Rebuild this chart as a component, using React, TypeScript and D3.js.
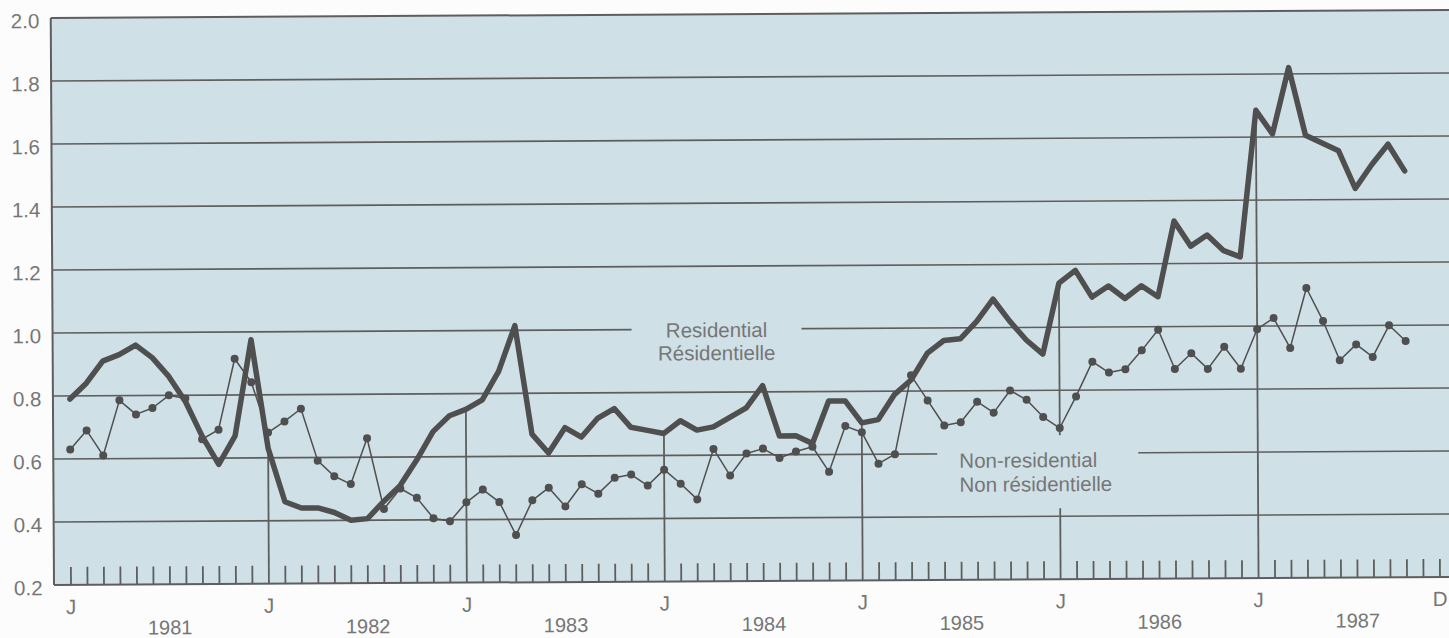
import React from "react";
import * as d3 from "d3";

// Monthly values, Jan 1981 – Oct 1987
const residential: number[] = [
  // 1981
  0.79, 0.84, 0.91, 0.93, 0.96, 0.92, 0.86, 0.78, 0.67, 0.58, 0.67, 0.975,
  // 1982
  0.63, 0.46, 0.44, 0.44, 0.425, 0.4, 0.405, 0.46, 0.51, 0.59, 0.68, 0.73,
  // 1983
  0.75, 0.78, 0.87, 1.015, 0.67, 0.61, 0.69, 0.66, 0.72, 0.75, 0.69, 0.68,
  // 1984
  0.67, 0.71, 0.68, 0.69, 0.72, 0.75, 0.82, 0.66, 0.66, 0.635, 0.77, 0.77,
  // 1985
  0.7, 0.71, 0.79, 0.835, 0.92, 0.96, 0.965, 1.02, 1.09, 1.02, 0.96, 0.915,
  // 1986
  1.14, 1.18, 1.095, 1.13, 1.09, 1.13, 1.095, 1.335, 1.255, 1.29, 1.24, 1.22,
  // 1987
  1.685, 1.61, 1.82, 1.605, 1.58, 1.555, 1.435, 1.51, 1.575, 1.49,
];

const nonResidential: number[] = [
  // 1981
  0.63, 0.69, 0.61, 0.785, 0.74, 0.76, 0.8, 0.79, 0.66, 0.69, 0.915, 0.84,
  // 1982
  0.68, 0.715, 0.755, 0.59, 0.54, 0.515, 0.66, 0.435, 0.5, 0.47, 0.405, 0.395,
  // 1983
  0.455, 0.495, 0.455, 0.35, 0.46, 0.5, 0.44, 0.51, 0.48, 0.53, 0.54, 0.505,
  // 1984
  0.555, 0.51, 0.46, 0.62, 0.535, 0.605, 0.62, 0.59, 0.61, 0.625, 0.545, 0.69,
  // 1985
  0.67, 0.57, 0.6, 0.85, 0.77, 0.69, 0.7, 0.765, 0.73, 0.8, 0.77, 0.715,
  // 1986
  0.68, 0.78, 0.89, 0.855, 0.865, 0.925, 0.99, 0.865, 0.915, 0.865, 0.935, 0.865,
  // 1987
  0.99, 1.025, 0.93, 1.12, 1.015, 0.89, 0.94, 0.9, 1.0, 0.95,
];

const yTicks: number[] = [2.0, 1.8, 1.6, 1.4, 1.2, 1.0, 0.8, 0.6, 0.4, 0.2];
const years: string[] = ["1981", "1982", "1983", "1984", "1985", "1986", "1987"];
const monthLabels: { index: number; label: string }[] = [
  { index: 0, label: "J" },
  { index: 12, label: "J" },
  { index: 24, label: "J" },
  { index: 36, label: "J" },
  { index: 48, label: "J" },
  { index: 60, label: "J" },
  { index: 72, label: "J" },
  { index: 83, label: "D" },
];
const nMonths = 84;

const W = 1449;
const H = 638;
const BG = "#cfe0e6";
const INK = "#4f4f4f";
const GRID = "#5e5e5e";
const TEXT = "#767676";
const FONT = "'Liberation Sans', Arial, Helvetica, sans-serif";

export default function App() {
  const x = d3.scaleLinear().domain([0, nMonths - 1]).range([71, 1440]);
  const y = d3.scaleLinear().domain([0.2, 2.0]).range([585, 18]);
  const plotLeft = 54;
  const plotRight = 1470;

  const line = d3
    .line<number>()
    .x((_, i) => x(i))
    .y((d) => y(d));

  const months = d3.range(nMonths);
  const janIdx = months.filter((i) => i > 0 && i % 12 === 0);

  return (
    <svg
      width={W}
      height={H}
      style={{ position: "absolute", left: 0, top: 0, background: "#fbfcfb" }}
    >
      <g transform={`rotate(-0.33, ${plotLeft}, ${y(0.2)})`} fontFamily={FONT}>
        {/* plot background */}
        <rect
          x={plotLeft}
          y={y(2.0)}
          width={plotRight - plotLeft}
          height={y(0.2) - y(2.0)}
          fill={BG}
        />
        {/* gridlines */}
        {yTicks.map((t) => (
          <line
            key={"g" + t}
            x1={plotLeft}
            x2={plotRight}
            y1={y(t)}
            y2={y(t)}
            stroke={GRID}
            strokeWidth={t === 2.0 || t === 0.2 ? 2 : 1.6}
          />
        ))}
        {/* January vertical lines */}
        {janIdx.map((i) => (
          <line
            key={"j" + i}
            x1={x(i)}
            x2={x(i)}
            y1={y(0.2)}
            y2={y(Math.max(residential[i], nonResidential[i]))}
            stroke={GRID}
            strokeWidth={1.8}
          />
        ))}
        {/* monthly ticks */}
        {months
          .filter((i) => i % 12 !== 0 || i === 0)
          .map((i) => (
            <line
              key={"t" + i}
              x1={x(i)}
              x2={x(i)}
              y1={y(0.2)}
              y2={y(0.2) - 18}
              stroke={GRID}
              strokeWidth={1.8}
            />
          ))}
        {/* left axis */}
        <line
          x1={plotLeft}
          x2={plotLeft}
          y1={y(2.0)}
          y2={y(0.2)}
          stroke={GRID}
          strokeWidth={2}
        />
        {/* label masks */}
        <rect x={633} y={318} width={170} height={50} fill={BG} />
        <rect x={938} y={441} width={201} height={73} fill={BG} />
        {/* series labels */}
        <text x={718} y={341} textAnchor="middle" fontSize={20.5} fill={TEXT}>
          Residential
        </text>
        <text x={718} y={364} textAnchor="middle" fontSize={20.5} fill={TEXT}>
          Résidentielle
        </text>
        <text x={960} y={473} textAnchor="start" fontSize={20.5} fill={TEXT}>
          Non-residential
        </text>
        <text x={960} y={497} textAnchor="start" fontSize={20.5} fill={TEXT}>
          Non résidentielle
        </text>
        {/* y labels */}
        {yTicks.map((t) => (
          <text
            key={"yl" + t}
            x={42.5}
            y={y(t) + 10}
            textAnchor="end"
            fontSize={20.5}
            fill={TEXT}
          >
            {t.toFixed(1)}
          </text>
        ))}
        {/* month labels */}
        {monthLabels.map((m) => (
          <text
            key={"ml" + m.index}
            x={x(m.index)}
            y={614}
            textAnchor="middle"
            fontSize={20.5}
            fill={TEXT}
          >
            {m.label}
          </text>
        ))}
        {/* year labels */}
        {years.map((yr, k) => (
          <text
            key={"yr" + yr}
            x={x(k * 12 + 6)}
            y={635}
            textAnchor="middle"
            fontSize={20}
            fill={TEXT}
          >
            {yr}
          </text>
        ))}
        {/* residential thick line */}
        <path
          d={line(residential) || ""}
          fill="none"
          stroke={INK}
          strokeWidth={5.5}
          strokeLinejoin="round"
          strokeLinecap="round"
        />
        {/* non-residential thin line with dots */}
        <path
          d={line(nonResidential) || ""}
          fill="none"
          stroke={INK}
          strokeWidth={1.5}
          strokeLinejoin="round"
        />
        {nonResidential.map((v, i) => (
          <circle key={"c" + i} cx={x(i)} cy={y(v)} r={4} fill={INK} />
        ))}
      </g>
    </svg>
  );
}
